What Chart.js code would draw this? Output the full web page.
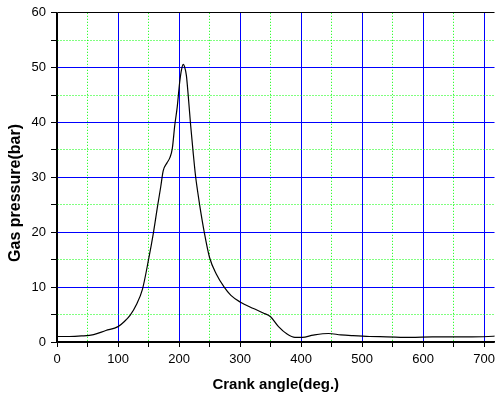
<!DOCTYPE html>
<html>
<head>
<meta charset="utf-8">
<script src="https://cdn.jsdelivr.net/npm/chart.js@4.4.0/dist/chart.umd.min.js"></script>
<style>
  html, body { margin: 0; padding: 0; background: #fff; overflow: hidden; }
  #wrap { width: 500px; height: 398px; }
</style>
</head>
<body>
<div id="wrap"><canvas id="pressureChart" width="500" height="398"></canvas></div>
<script>
// crank angle (deg.) and gas pressure (bar)
const angles = [0, 20, 40, 60, 80, 100, 110, 120, 130, 140, 150, 158, 165, 170, 174, 180, 185, 189,
  193, 197, 201, 204, 207, 209, 212, 215, 219, 223, 227, 230, 234, 241, 250, 261, 274, 285, 300,
  322, 338, 350, 363, 377, 390, 402, 420, 445, 465, 485, 512, 540, 580, 615, 650, 680, 715, 720];
const pressures = [1.0, 1.0, 1.1, 1.35, 2.1, 2.8, 3.7, 4.9, 6.8, 9.6, 15.0, 19.9, 24.9, 28.3, 31.2, 32.6, 33.6, 35.3,
  39.5, 42.8, 47.3, 49.6, 50.6, 50.2, 48.6, 45.0, 39.5, 34.7, 30.3, 27.8, 24.8, 20.2, 15.4, 12.4, 10.0, 8.5, 7.3,
  6.1, 5.3, 4.6, 2.8, 1.45, 0.85, 0.85, 1.25, 1.55, 1.3, 1.15, 1.0, 0.95, 0.85, 0.95, 0.95, 0.95, 1.05, 1.1];

const xTicks = [0, 50, 100, 150, 200, 250, 300, 350, 400, 450, 500, 550, 600, 650, 700];
const yTicks = [0, 5, 10, 15, 20, 25, 30, 35, 40, 45, 50, 55, 60];

const points = angles.map((a, i) => ({ x: a, y: pressures[i] }));

// major lines blue, minor lines green dotted, frame lines black
function gridColor(edges, major) {
  return (c) => {
    const v = c.tick ? c.tick.value : null;
    if (edges.includes(v)) return '#000000';
    return v % major === 0 ? '#0000ff' : '#00ff00';
  };
}
function gridDash(major) {
  return (c) => {
    if (!c.tick) return [];
    return c.tick.value % major === 0 ? [] : [1, 2];
  };
}

const ctx = document.getElementById('pressureChart').getContext('2d');
const chart = new Chart(ctx, {
  type: 'line',
  data: {
    datasets: [{
      data: points,
      borderColor: '#000000',
      borderWidth: 1.2,
      pointRadius: 0,
      fill: false,
      cubicInterpolationMode: 'monotone'
    }]
  },
  options: {
    responsive: false,
    animation: false,
    layout: { padding: { top: 10, right: 0, bottom: 0, left: 0 } },
    plugins: { legend: { display: false }, tooltip: { enabled: false } },
    scales: {
      x: {
        type: 'linear',
        min: 0,
        max: 717,
        afterBuildTicks: (s) => { s.ticks = xTicks.map(v => ({ value: v })); },
        afterFit: (s) => { s.height = 56; },
        ticks: {
          autoSkip: false,
          maxRotation: 0,
          padding: 5,
          color: '#000',
          font: { family: 'Liberation Sans, Arial', size: 13 },
          callback: (v) => (v % 100 === 0 ? String(v) : '')
        },
        grid: {
          color: gridColor([0], 100),
          lineWidth: 1,
          tickLength: 5,
          tickColor: '#000'
        },
        border: { display: true, color: '#000', width: 1.5, dash: gridDash(100) },
        title: {
          display: true,
          text: 'Crank angle(deg.)',
          color: '#000',
          font: { family: 'Liberation Sans, Arial', size: 15, weight: 'bold' },
          padding: { top: 0, bottom: 4 }
        }
      },
      y: {
        min: 0,
        max: 60,
        afterBuildTicks: (s) => { s.ticks = yTicks.map(v => ({ value: v })); },
        afterFit: (s) => { s.width = 57; },
        ticks: {
          autoSkip: false,
          padding: 5,
          color: '#000',
          font: { family: 'Liberation Sans, Arial', size: 13 },
          callback: (v) => (v % 10 === 0 ? String(v) : '')
        },
        grid: {
          color: gridColor([0, 60], 10),
          lineWidth: 1,
          tickLength: 6,
          tickColor: '#000'
        },
        border: { display: true, color: '#000', width: 1.5, dash: gridDash(10) },
        title: {
          display: true,
          text: 'Gas pressure(bar)       ',
          color: '#000',
          font: { family: 'Liberation Sans, Arial', size: 16, weight: 'bold' },
          padding: { top: 6, bottom: 0 }
        }
      }
    }
  }
});
</script>
</body>
</html>
